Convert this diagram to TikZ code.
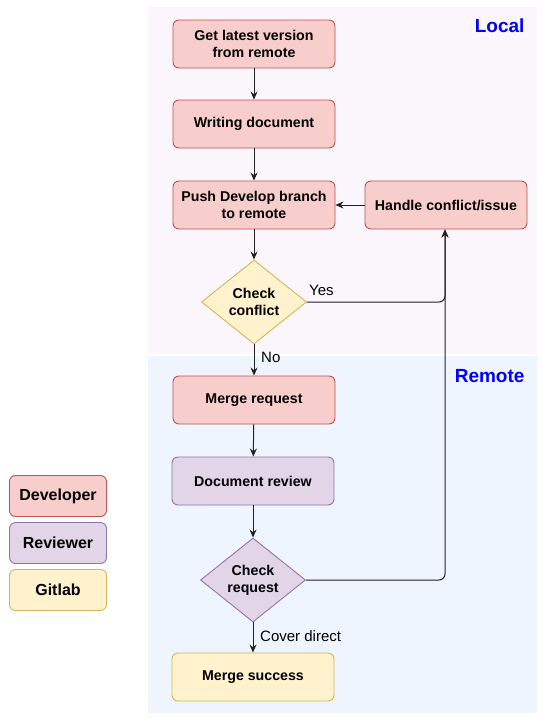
\documentclass[tikz,border=0pt]{standalone}
\usepackage{fontspec}
\setmainfont{Liberation Sans}
\usetikzlibrary{shapes.geometric,arrows.meta}
\definecolor{redfill}{HTML}{F8CECC}
\definecolor{redline}{HTML}{B85450}
\definecolor{purfill}{HTML}{E1D5E7}
\definecolor{purline}{HTML}{9673A6}
\definecolor{yelfill}{HTML}{FFF2CC}
\definecolor{yelline}{HTML}{D6B656}
\definecolor{localbg}{HTML}{FBF5FC}
\definecolor{remotebg}{HTML}{EEF5FF}
\definecolor{edgec}{HTML}{222222}
\definecolor{titleblue}{HTML}{0000FF}
\tikzset{
  box/.style={rectangle, rounded corners=6pt, line width=0.9pt, minimum width=162pt, minimum height=48pt, align=center, font=\fontsize{14.2}{17}\selectfont\bfseries, inner sep=2pt},
  dev/.style={box, fill=redfill, draw=redline},
  rev/.style={box, fill=purfill, draw=purline},
  git/.style={box, fill=yelfill, draw=yelline},
  leg/.style={minimum width=97pt, minimum height=41pt, font=\fontsize{16}{18}\selectfont\bfseries},
  dia/.style={diamond, line width=0.9pt, minimum width=105pt, minimum height=84pt, aspect=1.25, inner sep=0pt, align=center, font=\fontsize{14.2}{17}\selectfont\bfseries},
  arr/.style={draw=edgec, line width=1pt, -{Stealth[length=8pt,width=7pt]}},
  lbl/.style={font=\fontsize{15}{17}\selectfont, text=black, inner sep=1pt},
  title/.style={font=\fontsize{19}{21}\selectfont\bfseries, text=titleblue}
}
\begin{document}
\begin{tikzpicture}[x=1pt,y=-1pt]
\useasboundingbox (0,0) rectangle (543,718);
\fill[white] (0,0) rectangle (543,718);
\fill[localbg] (148,7) rectangle (537,354);
\fill[remotebg] (148,356) rectangle (537,713);
\node[title, anchor=east] (tlocal) at (528,26) {Local};
\node[title, anchor=east] (tremote) at (528,376) {Remote};

\node[dev] (get) at (254,44) {Get latest version\\from remote};
\node[dev] (write) at (254,124) {Writing document};
\node[dev] (push) at (254,205) {Push Develop branch\\to remote};
\node[dev] (handle) at (446,205) {Handle conflict/issue};
\node[dia, fill=yelfill, draw=yelline] (cc) at (254,302) {Check\\conflict};
\node[dev] (mr) at (254,400) {Merge request};
\node[rev] (dr) at (253,481) {Document review};
\node[dia, fill=purfill, draw=purline] (cr) at (253,580) {Check\\request};
\node[git] (ms) at (253,677) {Merge success};

\node[dev, leg] (ldev) at (58,496) {Developer};
\node[rev, leg] (lrev) at (58,543) {Reviewer};
\node[git, leg] (lgit) at (58,590) {Gitlab};

\draw[arr] (get) -- (write);
\draw[arr] (write) -- (push);
\draw[arr] (push) -- (cc);
\draw[arr] (handle) -- (push);
\draw[arr] (cc) -- (mr);
\node[lbl, anchor=west] (no) at (260,357) {No};
\draw[arr] (mr) -- (dr);
\draw[arr] (dr) -- (cr);
\draw[arr] (cr) -- (ms);
\node[lbl, anchor=west] (cd) at (259,636) {Cover direct};
\draw[arr, rounded corners=6pt] (cc.east) -- (445,302) -- (handle.south -| 445,0);
\draw[arr, rounded corners=6pt] (cr.east) -- (445,580) -- (handle.south -| 445,0);
\node[lbl, anchor=west] (yes) at (308,290) {Yes};
\end{tikzpicture}
\end{document}
